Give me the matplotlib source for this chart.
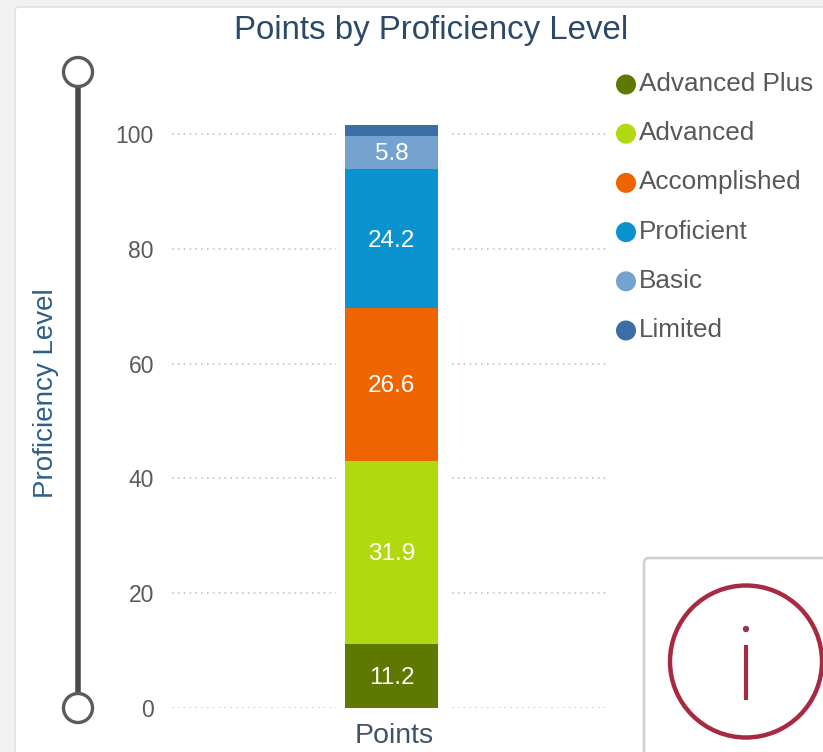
import matplotlib
matplotlib.use("Agg")
import matplotlib.pyplot as plt
from matplotlib.patches import Circle, FancyBboxPatch
from matplotlib.transforms import ScaledTranslation

plt.rcParams['font.family'] = ['Liberation Sans', 'DejaVu Sans']

#data, bottom to top of the stack
levels = ['Advanced Plus', 'Advanced', 'Accomplished', 'Proficient', 'Basic', 'Limited']
points = [11.2, 31.9, 26.6, 24.2, 5.8, 1.8]
labels = ['11.2', '31.9', '26.6', '24.2', '5.8', '']
colors = ['#5f7800', '#b2d80f', '#ee6400', '#0b93d0', '#74a3cf', '#3a6ea5']
y_ticks = [0, 20, 40, 60, 80, 100]
category = 'Points'

W, H = 823, 752
fig = plt.figure(figsize=(W / 100, H / 100), dpi=100, facecolor='#f1f1f1')

#full figure layer in pixels for the card, slider and info box
bg = fig.add_axes([0, 0, 1, 1], zorder=0)
bg.set_xlim(0, W)
bg.set_ylim(H, 0)
bg.axis('off')
bg.add_patch(FancyBboxPatch((15, 7), 900, 900, boxstyle='round,pad=0,rounding_size=4',
                            fc='white', ec='#dcdcdc', lw=1))

#chart axes
left, right, top, bottom = 172, 607, 60, 708
ax = fig.add_axes([left / W, 1 - bottom / H, (right - left) / W, (bottom - top) / H], zorder=1)
ax.patch.set_alpha(0)
ax.set_xlim(-219.5 / 435, 215.5 / 435)
ax.set_ylim(0, (bottom - top) / 5.74)
for s in ax.spines.values():
    s.set_visible(False)
ax.set_yticks(y_ticks)
ax.set_xticks([0])
ax.set_xticklabels([category], fontsize=20.5, color='#3f5468')
ax.tick_params(axis='x', length=0, pad=11)
ax.tick_params(axis='y', length=0, pad=13, labelsize=16.5, labelcolor='#5a5a5a')
ax.yaxis.grid(True, color='#c4c4c4', linestyle=(0, (1, 2.5)), linewidth=1.2)
ax.set_axisbelow(True)

#category label sits a little right of the bar centre
for lab in ax.get_xticklabels():
    lab.set_transform(lab.get_transform() + ScaledTranslation(3 / 100, 0, fig.dpi_scale_trans))

#white gap around the bar cuts the gridlines
bar_w = 93 / 435
ax.bar(0, sum(points), width=112 / 435, color='white', zorder=1.5)
base = 0
for lev, val, col, lab in zip(levels, points, colors, labels):
    ax.bar(0, val, bottom=base, width=bar_w, color=col, zorder=2, label=lev)
    if lab:
        ax.annotate(lab, (0, base + val / 2), xytext=(0, -1.5), textcoords='offset points',
                    ha='center', va='center', color='white', fontsize=17.5, zorder=3)
    base += val

#title and axis label
fig.text(431 / W, 1 - 31 / H, 'Points by Proficiency Level', ha='center', va='center',
         fontsize=23.8, color='#2c4a68')
fig.text(46 / W, 1 - 393 / H, 'Proficiency Level', rotation=90, ha='center', va='center',
         fontsize=20, color='#2f5f86')

#slider
bg.plot([78, 78], [72, 708], color='#4a4a4a', lw=4, solid_capstyle='butt')
for cy in (72, 708):
    bg.add_patch(Circle((78, cy), 14.5, fc='white', ec='#5a5a5a', lw=2.4, zorder=5))

#legend
for i, (lev, col) in enumerate(zip(levels, colors)):
    ly = 84.5 + i * 49.2
    bg.add_patch(Circle((626, ly), 10, fc=col, ec='none'))
    bg.text(639, ly - 0.5, lev, ha='left', va='center', fontsize=18.8, color='#585858')

#info box
bg.add_patch(FancyBboxPatch((644, 558), 400, 400, boxstyle='round,pad=0,rounding_size=5',
                            fc='white', ec='#cfcfcf', lw=1.8))
bg.add_patch(Circle((746, 661.5), 76, fc='none', ec='#a72a42', lw=3.2))
bg.plot([746, 746], [645, 700], color='#a72a42', lw=3, solid_capstyle='butt')
bg.add_patch(Circle((746, 629), 3.2, fc='#8c3a50', ec='none'))

fig.savefig('out.png', dpi=100, facecolor=fig.get_facecolor())
